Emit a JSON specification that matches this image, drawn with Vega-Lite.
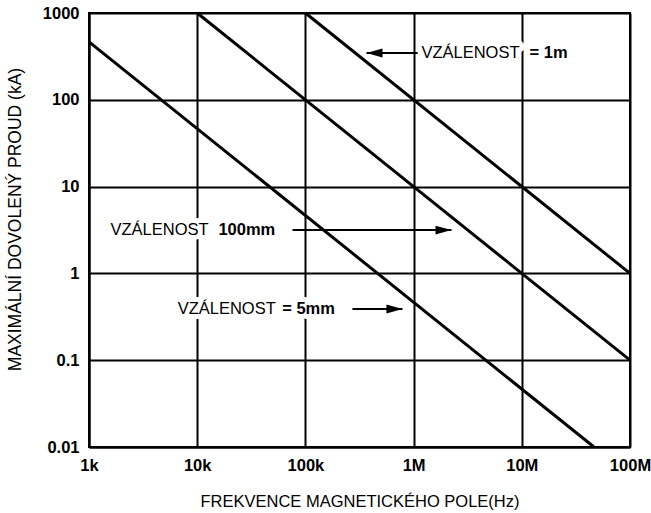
{
  "$schema": "https://vega.github.io/schema/vega-lite/v6.json",
  "width": 541,
  "height": 434,
  "autosize": "none",
  "padding": {"left": 89, "top": 13, "right": 21, "bottom": 66},
  "background": "white",
  "config": {
    "view": {"stroke": "black", "strokeWidth": 2},
    "font": "Liberation Sans",
    "axis": {
      "grid": true,
      "gridColor": "black",
      "gridWidth": 2,
      "gridOpacity": 1,
      "domainColor": "black",
      "domainWidth": 2,
      "ticks": false,
      "labelFlush": false,
      "labelFont": "Liberation Sans",
      "labelFontWeight": "bold",
      "labelFontSize": 16.5,
      "labelColor": "black",
      "titleFont": "Liberation Sans",
      "titleFontWeight": "normal",
      "titleFontSize": 16.5,
      "titleColor": "black"
    }
  },
  "datasets": {
    "lines": [
      {"series": "5mm", "f": 1000, "I": 465},
      {"series": "5mm", "f": 46500000, "I": 0.01},
      {"series": "100mm", "f": 10000, "I": 1000},
      {"series": "100mm", "f": 100000000, "I": 0.1},
      {"series": "1m", "f": 100000, "I": 1000},
      {"series": "1m", "f": 100000000, "I": 1}
    ],
    "labels": [
      {"f": 1180000, "I": 346, "t": "VZÁLENOST", "w": "normal"},
      {"f": 11800000, "I": 346, "t": "= 1m", "w": "bold"},
      {"f": 1580, "I": 3.16, "t": "VZÁLENOST", "w": "normal"},
      {"f": 15700, "I": 3.16, "t": "100mm", "w": "bold"},
      {"f": 6600, "I": 0.389, "t": "VZÁLENOST", "w": "normal"},
      {"f": 61000, "I": 0.389, "t": "= 5mm", "w": "bold"}
    ],
    "arrows": [
      {"f1": 1090000, "f2": 367000, "I": 346, "dir": "left"},
      {"f1": 76000, "f2": 2240000, "I": 3.16, "dir": "right"},
      {"f1": 272000, "f2": 789000, "I": 0.389, "dir": "right"}
    ]
  },
  "layer": [
    {
      "data": {"name": "labels"},
      "transform": [{"filter": "datum.w == 'normal'"}],
      "mark": {"type": "text", "align": "left", "baseline": "middle", "fontSize": 16.5, "fontWeight": "normal", "color": "white", "stroke": "white", "strokeWidth": 10, "strokeJoin": "round"},
      "encoding": {
        "x": {"field": "f", "type": "quantitative", "scale": {"type": "log", "domain": [1000, 100000000]}, "axis": {"values": [1000, 10000, 100000, 1000000, 10000000, 100000000], "format": "~s", "labelPadding": 10, "title": "FREKVENCE MAGNETICKÉHO POLE(Hz)", "titlePadding": 20}},
        "y": {"field": "I", "type": "quantitative", "scale": {"type": "log", "domain": [0.01, 1000]}, "axis": {"values": [0.01, 0.1, 1, 10, 100, 1000], "format": "~g", "labelPadding": 10, "title": "MAXIMÁLNÍ DOVOLENÝ PROUD (kA)", "titleFontSize": 17.5, "titleX": -65, "titleY": 206}},
        "text": {"field": "t"}
      }
    },
    {
      "data": {"name": "labels"},
      "transform": [{"filter": "datum.w == 'bold'"}],
      "mark": {"type": "text", "align": "left", "baseline": "middle", "fontSize": 16.5, "fontWeight": "bold", "color": "white", "stroke": "white", "strokeWidth": 10, "strokeJoin": "round"},
      "encoding": {
        "x": {"field": "f", "type": "quantitative"},
        "y": {"field": "I", "type": "quantitative"},
        "text": {"field": "t"}
      }
    },
    {
      "data": {"name": "lines"},
      "mark": {"type": "line", "color": "black", "strokeWidth": 3},
      "encoding": {
        "x": {"field": "f", "type": "quantitative"},
        "y": {"field": "I", "type": "quantitative"},
        "detail": {"field": "series"}
      }
    },
    {
      "data": {"name": "labels"},
      "transform": [{"filter": "datum.w == 'normal'"}],
      "mark": {"type": "text", "align": "left", "baseline": "middle", "fontSize": 16.5, "fontWeight": "normal", "color": "black"},
      "encoding": {
        "x": {"field": "f", "type": "quantitative"},
        "y": {"field": "I", "type": "quantitative"},
        "text": {"field": "t"}
      }
    },
    {
      "data": {"name": "labels"},
      "transform": [{"filter": "datum.w == 'bold'"}],
      "mark": {"type": "text", "align": "left", "baseline": "middle", "fontSize": 16.5, "fontWeight": "bold", "color": "black"},
      "encoding": {
        "x": {"field": "f", "type": "quantitative"},
        "y": {"field": "I", "type": "quantitative"},
        "text": {"field": "t"}
      }
    },
    {
      "data": {"name": "arrows"},
      "mark": {"type": "rule", "color": "black", "strokeWidth": 2},
      "encoding": {
        "x": {"field": "f1", "type": "quantitative"},
        "x2": {"field": "f2"},
        "y": {"field": "I", "type": "quantitative"}
      }
    },
    {
      "data": {"name": "arrows"},
      "transform": [{"filter": "datum.dir == 'right'"}],
      "mark": {"type": "point", "filled": true, "color": "black", "opacity": 1, "size": 256, "shape": "M -2 -0.55 L 0 0 L -2 0.55 Z"},
      "encoding": {
        "x": {"field": "f2", "type": "quantitative"},
        "y": {"field": "I", "type": "quantitative"}
      }
    },
    {
      "data": {"name": "arrows"},
      "transform": [{"filter": "datum.dir == 'left'"}],
      "mark": {"type": "point", "filled": true, "color": "black", "opacity": 1, "size": 256, "shape": "M 2 -0.55 L 0 0 L 2 0.55 Z"},
      "encoding": {
        "x": {"field": "f2", "type": "quantitative"},
        "y": {"field": "I", "type": "quantitative"}
      }
    }
  ]
}
